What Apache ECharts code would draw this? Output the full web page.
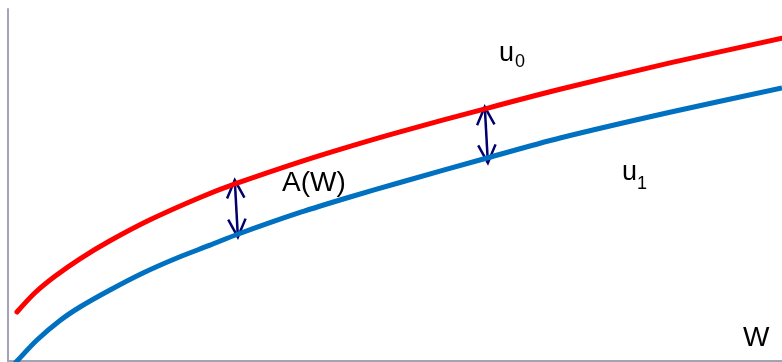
<!DOCTYPE html>
<html>
<head>
<meta charset="utf-8">
<script src="https://cdn.jsdelivr.net/npm/echarts@6/dist/echarts.min.js"></script>
<style>
  html, body { margin: 0; padding: 0; background: #fff; }
  #chart { width: 782px; height: 362px; }
</style>
</head>
<body>
<div id="chart"></div>
<script>
// wealth W (x) and utility values (arbitrary 0-100 units)
const u0W = [1.16, 3.49, 6.07, 9.3, 13.18, 18.35, 24.81, 29.59, 37.73, 44.19, 50.65, 61.89, 71.32, 85.53, 100];
const u0 = [13.92, 19.38, 24.06, 29.03, 34.15, 40.11, 46.45, 50.51, 56.59, 60.99, 65.11, 71.79, 77.19, 84.69, 91.68];
const u1W = [0.52, 1.29, 3.75, 6.72, 9.3, 13.18, 17.44, 21.83, 26.1, 29.59, 37.73, 44.19, 50.65, 61.89, 71.32, 85.66, 100];
const u1 = [-1.7, 0.28, 5.97, 11.51, 15.34, 20.17, 25.0, 29.26, 32.9, 35.94, 42.19, 46.59, 50.71, 57.67, 63.35, 70.74, 77.56];

// double arrows showing the gap A(W)
const arrowTopW = [29.3, 61.6];
const arrowTop = [51.4, 72.2];
const arrowBottomW = [29.7, 62.0];
const arrowBottom = [35.2, 56.3];

const zip = (xs, ys) => xs.map((x, i) => [x, ys[i]]);

const axisStyle = {
  show: true,
  lineStyle: { color: '#a3a3b8', width: 2 },
};

const curve = {
  type: 'line',
  smooth: 0.3,
  showSymbol: false,
  silent: true,
};

const arrowColor = '#00006e';

const renderArrow = (params, api) => {
  const p1 = api.coord([api.value(0), api.value(1)]);
  const p2 = api.coord([api.value(2), api.value(3)]);
  const dx = p2[0] - p1[0];
  const dy = p2[1] - p1[1];
  const len = Math.sqrt(dx * dx + dy * dy);
  const ux = dx / len;
  const uy = dy / len;
  const L = 20;
  const a = 0.45;
  const head = (p, sx, sy) => {
    const c = Math.cos(a);
    const s = Math.sin(a);
    const r1 = [p[0] + L * (sx * c - sy * s), p[1] + L * (sx * s + sy * c)];
    const r2 = [p[0] + L * (sx * c + sy * s), p[1] + L * (-sx * s + sy * c)];
    return {
      type: 'polyline',
      shape: { points: [r1, p, r2] },
      style: { stroke: arrowColor, lineWidth: 2.5, fill: null },
    };
  };
  return {
    type: 'group',
    children: [
      {
        type: 'line',
        shape: { x1: p1[0], y1: p1[1], x2: p2[0], y2: p2[1] },
        style: { stroke: arrowColor, lineWidth: 2.5 },
      },
      head(p1, ux, uy),
      head(p2, -ux, -uy),
    ],
  };
};

const label = (text, x, y, size) => ({
  type: 'text',
  x,
  y,
  style: {
    text,
    fill: '#000',
    font: size + 'px "Liberation Sans", Arial, sans-serif',
    textVerticalAlign: 'bottom',
  },
});

const chart = echarts.init(document.getElementById('chart'));
chart.setOption({
  animation: false,
  grid: { left: 8, right: 0, top: 9, bottom: 1 },
  xAxis: {
    type: 'value',
    min: 0,
    max: 100,
    axisLine: axisStyle,
    axisTick: { show: false },
    axisLabel: { show: false },
    splitLine: { show: false },
  },
  yAxis: {
    type: 'value',
    min: 0,
    max: 100,
    axisLine: axisStyle,
    axisTick: { show: false },
    axisLabel: { show: false },
    splitLine: { show: false },
  },
  series: [
    {
      ...curve,
      name: 'u0',
      data: zip(u0W, u0),
      lineStyle: { color: '#ff0000', width: 5, cap: 'round' },
      itemStyle: { color: '#ff0000' },
    },
    {
      ...curve,
      name: 'u1',
      data: zip(u1W, u1),
      lineStyle: { color: '#0070c0', width: 5 },
      itemStyle: { color: '#0070c0' },
    },
    {
      type: 'custom',
      name: 'A(W)',
      clip: false,
      silent: true,
      renderItem: renderArrow,
      encode: { x: [0, 2], y: [1, 3] },
      data: arrowTopW.map((w, i) => [w, arrowTop[i], arrowBottomW[i], arrowBottom[i]]),
    },
  ],
  graphic: [
    label('u', 499, 67, 27),
    label('0', 515, 71, 18),
    label('A(W)', 282, 197, 28),
    label('u', 622, 186, 27),
    label('1', 637, 193, 18),
    label('W', 743, 352, 28),
  ],
});
</script>
</body>
</html>
